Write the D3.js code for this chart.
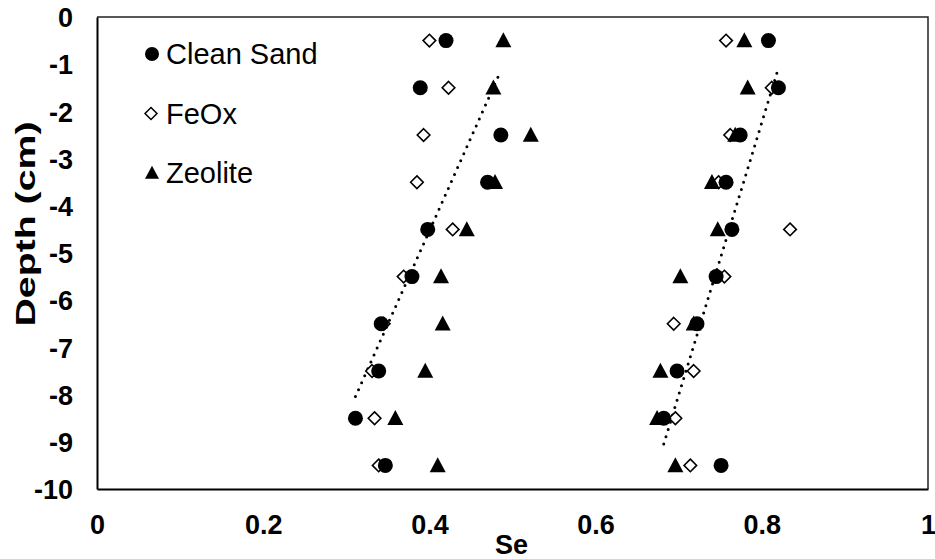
<!DOCTYPE html>
<html>
<head>
<meta charset="utf-8">
<script src="https://cdn.jsdelivr.net/npm/d3@7"></script>
<style>
  html, body { margin: 0; padding: 0; background: #fff; }
  svg { display: block; font-family: "Liberation Sans", Arial, sans-serif; }
</style>
</head>
<body>
<svg id="chart" width="935" height="559"></svg>
<script>
// ---- data ----
const depths = [-0.5, -1.5, -2.5, -3.5, -4.5, -5.5, -6.5, -7.5, -8.5, -9.5];
// left group (lower Se)
const cleanSandLeft = [0.420, 0.389, 0.486, 0.470, 0.398, 0.379, 0.342, 0.339, 0.311, 0.347];
const feOxLeft      = [0.400, 0.423, 0.393, 0.385, 0.428, 0.369, 0.345, 0.331, 0.334, 0.339];
const zeoliteLeft   = [0.489, 0.477, 0.522, 0.479, 0.445, 0.414, 0.416, 0.395, 0.359, 0.410];
// right group (higher Se)
const cleanSandRight = [0.808, 0.820, 0.774, 0.757, 0.764, 0.745, 0.722, 0.698, 0.682, 0.751];
const feOxRight      = [0.757, 0.812, 0.762, 0.748, 0.834, 0.755, 0.694, 0.718, 0.696, 0.714];
const zeoliteRight   = [0.779, 0.783, 0.768, 0.740, 0.747, 0.702, 0.718, 0.678, 0.674, 0.696];
const xTicks = [0, 0.2, 0.4, 0.6, 0.8, 1];
const yTicks = [0, -1, -2, -3, -4, -5, -6, -7, -8, -9, -10];
const legendLabels = ["Clean Sand", "FeOx", "Zeolite"];

// ---- layout ----
const svg = d3.select("#chart");
const L = 97, R = 928, T = 17, B = 489;
const x = d3.scaleLinear().domain([0, 1]).range([L, R]);
const y = d3.scaleLinear().domain([0, -10]).range([T, B]);
const FONT = '"Liberation Sans", Arial, sans-serif';

// plot border (top/right)
svg.append("path")
  .attr("d", `M${L},${T}H${R}V${B}`)
  .attr("fill", "none").attr("stroke", "#222").attr("stroke-width", 1.5);

// axes
const xAxis = svg.append("g").attr("transform", `translate(0,${B})`)
  .call(d3.axisBottom(x).tickValues(xTicks).tickSize(0).tickPadding(0)
    .tickFormat(d => String(+d.toFixed(1))));
xAxis.select(".domain").attr("stroke", "#000").attr("stroke-width", 2);
xAxis.selectAll("text").attr("font-size", 27).attr("font-weight", "bold")
  .attr("fill", "#000").attr("dy", null).attr("y", 45)
  .attr("font-family", FONT);

const yAxis = svg.append("g").attr("transform", `translate(${L},0)`)
  .call(d3.axisLeft(y).tickValues(yTicks).tickSize(0).tickPadding(24)
    .tickFormat(d => String(d)));
yAxis.select(".domain").attr("stroke", "#000").attr("stroke-width", 2);
yAxis.selectAll("text").attr("font-size", 27).attr("font-weight", "bold")
  .attr("fill", "#000").attr("dy", "0.36em")
  .attr("font-family", FONT);

// axis titles
svg.append("text").attr("x", (L + R) / 2 - 1).attr("y", 554)
  .attr("text-anchor", "middle").attr("font-size", 27).attr("font-weight", "bold")
  .text("Se");
svg.append("text")
  .attr("transform", `translate(35,224) rotate(-90)`)
  .attr("text-anchor", "middle").attr("font-size", 28).attr("font-weight", "bold")
  .attr("textLength", 205).attr("lengthAdjust", "spacingAndGlyphs")
  .text("Depth (cm)");

// ---- trendlines (linear fit of depth on Se, Clean Sand) ----
function trend(xs) {
  const mx = d3.mean(xs), my = d3.mean(depths);
  let sxy = 0, sxx = 0;
  xs.forEach((v, i) => { sxy += (v - mx) * (depths[i] - my); sxx += (v - mx) * (v - mx); });
  const b = sxy / sxx, a = my - b * mx;
  const [x0, x1] = d3.extent(xs);
  return [[x0, a + b * x0], [x1, a + b * x1]];
}
const line = d3.line().x(d => x(d[0])).y(d => y(d[1]));
[cleanSandLeft, cleanSandRight].forEach(xs => {
  svg.append("path").attr("d", line(trend(xs)))
    .attr("fill", "none").attr("stroke", "#000").attr("stroke-width", 3)
    .attr("stroke-linecap", "round").attr("stroke-dasharray", "0 7.6");
});

// ---- markers ----
function diamondPath(s) { return `M0,${-s}L${s},0L0,${s}L${-s},0Z`; }
function trianglePath(w, h) { return `M0,${-h * 0.55}L${w / 2},${h * 0.45}L${-w / 2},${h * 0.45}Z`; }

function drawSeries(xs, kind) {
  const g = svg.append("g");
  xs.forEach((v, i) => {
    const tx = x(v), ty = y(depths[i]);
    if (kind === "circle") {
      g.append("circle").attr("cx", tx).attr("cy", ty).attr("r", 7.5).attr("fill", "#000");
    } else if (kind === "diamond") {
      g.append("path").attr("d", diamondPath(6.3))
        .attr("transform", `translate(${tx},${ty})`)
        .attr("fill", "#fff").attr("stroke", "#000").attr("stroke-width", 1.6);
    } else {
      g.append("path").attr("d", trianglePath(16, 15))
        .attr("transform", `translate(${tx},${ty})`).attr("fill", "#000");
    }
  });
}
drawSeries(feOxLeft, "diamond");
drawSeries(feOxRight, "diamond");
drawSeries(cleanSandLeft, "circle");
drawSeries(cleanSandRight, "circle");
drawSeries(zeoliteLeft, "triangle");
drawSeries(zeoliteRight, "triangle");

// ---- legend ----
const kinds = ["circle", "diamond", "triangle"];
legendLabels.forEach((lab, i) => {
  const cy = 54 + i * 59.5, cx = 152;
  if (kinds[i] === "circle") {
    svg.append("circle").attr("cx", cx).attr("cy", cy).attr("r", 7).attr("fill", "#000");
  } else if (kinds[i] === "diamond") {
    svg.append("path").attr("d", diamondPath(6)).attr("transform", `translate(${cx - 1},${cy})`)
      .attr("fill", "#fff").attr("stroke", "#000").attr("stroke-width", 1.5);
  } else {
    svg.append("path").attr("d", trianglePath(14, 13)).attr("transform", `translate(${cx},${cy})`)
      .attr("fill", "#000");
  }
  svg.append("text").attr("x", 166).attr("y", cy + 10).attr("font-size", 29)
    .attr("fill", "#000").text(lab);
});
</script>
</body>
</html>
